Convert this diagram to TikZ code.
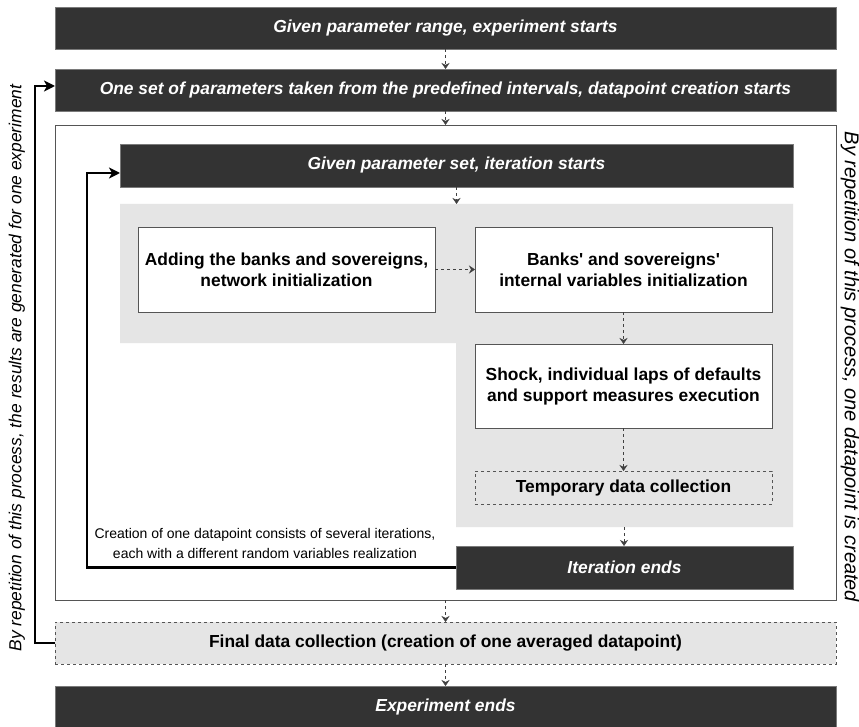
\documentclass[tikz,border=0pt]{standalone}
\usepackage{fontspec}
\setmainfont{Liberation Sans}
\usetikzlibrary{arrows.meta,calc}
\definecolor{darkfill}{HTML}{333333}
\definecolor{darkedge}{HTML}{7A7A7A}
\definecolor{regiongray}{HTML}{E5E5E5}
\definecolor{edgegray}{HTML}{555555}
\tikzset{
  base/.style={inner sep=0pt, outer sep=0pt, align=center},
  darkbox/.style={base, fill=darkfill, draw=darkedge, line width=0.8pt, text=white,
    font=\fontsize{17.4}{20}\selectfont\bfseries\itshape},
  whitebox/.style={base, fill=white, draw=edgegray, line width=0.8pt,
    font=\fontsize{17.4}{21}\selectfont\bfseries},
  dashbox/.style={base, draw=edgegray, dashed, line width=0.7pt,
    font=\fontsize{17.4}{21}\selectfont\bfseries},
  framebox/.style={base, fill=white, draw=edgegray, line width=0.8pt},
  darr/.style={draw=black!75, dashed, line width=0.6pt, -{Stealth[length=6pt,width=8pt,inset=2pt]}},
  looparr/.style={draw=black, line width=2.6pt, -{Stealth[length=11pt,width=11pt,inset=3pt]}},
  sidetext/.style={inner sep=0pt, font=\fontsize{17.4}{20}\selectfont\itshape},
}
\begin{document}
\begin{tikzpicture}[x=1pt,y=-1pt]
\useasboundingbox (0,0) rectangle (859,727);

% outer frame for datapoint creation
\node[framebox, minimum width=781pt, minimum height=475pt] (frame) at (445.5,362.5) {};

% top boxes
\node[darkbox, minimum width=781pt, minimum height=42pt] (b1) at (445.5,28) {Given parameter range, experiment starts};
\node[darkbox, minimum width=781pt, minimum height=42pt] (b2) at (445.5,90) {One set of parameters taken from the predefined intervals, datapoint creation starts};

% iteration start
\node[darkbox, minimum width=673pt, minimum height=43pt] (b3) at (456.5,165.5) {Given parameter set, iteration starts};

% gray L-shaped region
\fill[regiongray] (120,204) -- (793,204) -- (793,527) -- (456,527) -- (456,343) -- (120,343) -- cycle;
\coordinate (gtop) at (456.5,204);
\coordinate (gbot) at (624,527);

% process boxes
\node[whitebox, minimum width=297pt, minimum height=85pt] (A) at (286.5,269.5) {Adding the banks and sovereigns,\\network initialization};
\node[whitebox, minimum width=297pt, minimum height=85pt] (B) at (623.5,269.5) {Banks\textquotesingle{} and sovereigns\textquotesingle\\internal variables initialization};
\node[whitebox, minimum width=297pt, minimum height=84pt] (C) at (623.5,386) {Shock, individual laps of defaults\\and support measures execution};
\node[dashbox, minimum width=297pt, minimum height=33pt] (D) at (623.5,487.5) {Temporary data collection};

% iteration end
\node[darkbox, minimum width=337pt, minimum height=43pt] (iter) at (624.5,567.5) {Iteration ends};

% final boxes
\node[dashbox, fill=regiongray, minimum width=781pt, minimum height=42pt] (final) at (445.5,643) {Final data collection (creation of one averaged datapoint)};
\node[darkbox, minimum width=781pt, minimum height=42pt] (exp) at (445.5,707) {Experiment ends};

% dashed flow arrows
\draw[darr] (b1.south) -- (b2.north);
\draw[darr] (b2.south) -- (frame.north);
\draw[darr] (b3.south) -- (gtop);
\draw[darr] (A.east) -- (B.west);
\draw[darr] (B.south) -- (C.north);
\draw[darr] (C.south) -- (D.north);
\draw[darr] (gbot) -- (gbot |- iter.north);
\draw[darr] (frame.south) -- (final.north);
\draw[darr] (final.south) -- (exp.north);

% loops
\coordinate (innerx) at (87,567.5);
\coordinate (outerx) at (35,643);
\draw[looparr] (iter.west) -- (innerx) |- ($(b3.west)+(0,7.5)$);
\draw[looparr] (final.west) -- (outerx) |- ($(b2.west)+(0,-4)$);

% loop label
\node[inner sep=0pt, align=center, font=\fontsize{14}{20}\selectfont] (note) at (265,543)
  {Creation of one datapoint consists of several iterations,\\each with a different random variables realization};

% side texts
\node[sidetext, rotate=90] (lefttext) at (17,368) {By repetition of this process, the results are generated for one experiment};
\node[sidetext, rotate=-90, font=\fontsize{20}{23}\selectfont\itshape] (righttext) at (850,367) {By repetition of this process, one datapoint is created};
\end{tikzpicture}
\end{document}
